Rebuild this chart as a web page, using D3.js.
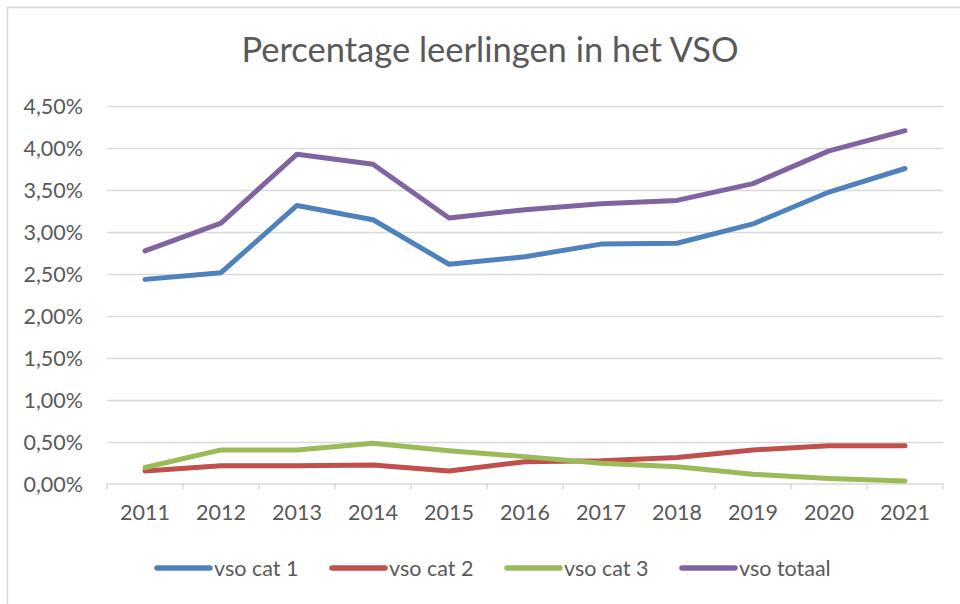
<!DOCTYPE html>
<html>
<head>
<meta charset="utf-8">
<script src="https://cdn.jsdelivr.net/npm/d3@7"></script>
<style>
  html, body { margin: 0; padding: 0; background: #fff; }
  svg { display: block; }
  text { font-family: Lato, "Open Sans", sans-serif; fill: #595959; }
</style>
</head>
<body>
<svg id="chart" width="960" height="604"></svg>
<script>
const years = ["2011","2012","2013","2014","2015","2016","2017","2018","2019","2020","2021"];
const cat1   = [2.43, 2.51, 3.31, 3.14, 2.61, 2.70, 2.85, 2.86, 3.09, 3.47, 3.75];
const cat2   = [0.15, 0.21, 0.21, 0.22, 0.15, 0.26, 0.27, 0.31, 0.40, 0.45, 0.45];
const cat3   = [0.19, 0.40, 0.40, 0.48, 0.39, 0.32, 0.24, 0.20, 0.11, 0.06, 0.03];
const totaal = [2.77, 3.10, 3.92, 3.80, 3.16, 3.26, 3.33, 3.37, 3.57, 3.96, 4.20];
const yTicks = [0, 0.5, 1, 1.5, 2, 2.5, 3, 3.5, 4, 4.5];
const seriesNames = ["vso cat 1", "vso cat 2", "vso cat 3", "vso totaal"];
const seriesColors = ["#4f81bd", "#c0504d", "#9bbb59", "#8064a2"];
const title = "Percentage leerlingen in het VSO";

const series = [cat1, cat2, cat3, totaal].map((v, i) => ({ name: seriesNames[i], color: seriesColors[i], values: v }));

const svg = d3.select("#chart");
const plot = { left: 107, right: 943, top: 105.5, bottom: 483.5 };

// frame
svg.append("path")
  .attr("d", `M7.5,604 L7.5,7.5 L960,7.5`)
  .attr("fill", "none").attr("stroke", "#d9d9d9").attr("stroke-width", 1.5);

const x = d3.scaleBand().domain(years).range([plot.left, plot.right]);
const y = d3.scaleLinear().domain([0, 4.5]).range([plot.bottom, plot.top]);

// title
svg.append("text")
  .attr("x", 490).attr("y", 62)
  .attr("text-anchor", "middle")
  .style("font-size", "34.5px")
  .text(title);

// gridlines
svg.append("g").selectAll("line").data(yTicks.filter(d => d > 0)).join("line")
  .attr("x1", plot.left).attr("x2", plot.right)
  .attr("y1", d => Math.round(y(d)) + 0.5).attr("y2", d => Math.round(y(d)) + 0.5)
  .attr("stroke", "#d9d9d9").attr("stroke-width", 1.5);

// y axis labels
const fmt = d => d.toFixed(2).replace(".", ",") + "%";
const yAxis = d3.axisLeft(y).tickValues(yTicks).tickFormat(fmt).tickSize(0).tickPadding(0);
const yg = svg.append("g").attr("transform", `translate(${83},0)`).call(yAxis);
yg.select(".domain").remove();
yg.selectAll("text").style("font-size", "21.5px").attr("fill", "#595959").attr("dy", "0.35em");

// x axis
const xAxis = d3.axisBottom(x).tickSize(0).tickPadding(0);
const xg = svg.append("g").attr("transform", `translate(0,${plot.bottom})`).call(xAxis);
xg.select(".domain").attr("stroke", "#d9d9d9").attr("stroke-width", 1.5).attr("d", `M${plot.left},0.5H${plot.right}`);
xg.selectAll("text").style("font-size", "21.5px").attr("fill", "#595959").attr("y", 21).attr("dy", "0.71em");
// band boundary ticks
const bounds = years.map(d => x(d)).concat([x(years[years.length - 1]) + x.bandwidth()]);
xg.append("g").selectAll("line").data(bounds).join("line")
  .attr("x1", d => d).attr("x2", d => d).attr("y1", 0).attr("y2", 6)
  .attr("stroke", "#d9d9d9").attr("stroke-width", 1.5);

// lines
const line = d3.line().x((d, i) => x(years[i]) + x.bandwidth() / 2).y(d => y(d));
svg.append("g").selectAll("path").data(series).join("path")
  .attr("d", d => line(d.values))
  .attr("fill", "none")
  .attr("stroke", d => d.color)
  .attr("stroke-width", 5)
  .attr("stroke-linecap", "round")
  .attr("stroke-linejoin", "round");

// legend
const legendX = [157, 332, 507, 682];
const lg = svg.append("g").selectAll("g").data(series).join("g")
  .attr("transform", (d, i) => `translate(${legendX[i]},568)`);
lg.append("line").attr("x1", 0).attr("x2", 53).attr("y1", 0).attr("y2", 0)
  .attr("stroke", d => d.color).attr("stroke-width", 5.5).attr("stroke-linecap", "round");
lg.append("text").attr("x", 57).attr("y", 0).attr("dy", "0.35em")
  .style("font-size", "21.5px").text(d => d.name);
</script>
</body>
</html>
